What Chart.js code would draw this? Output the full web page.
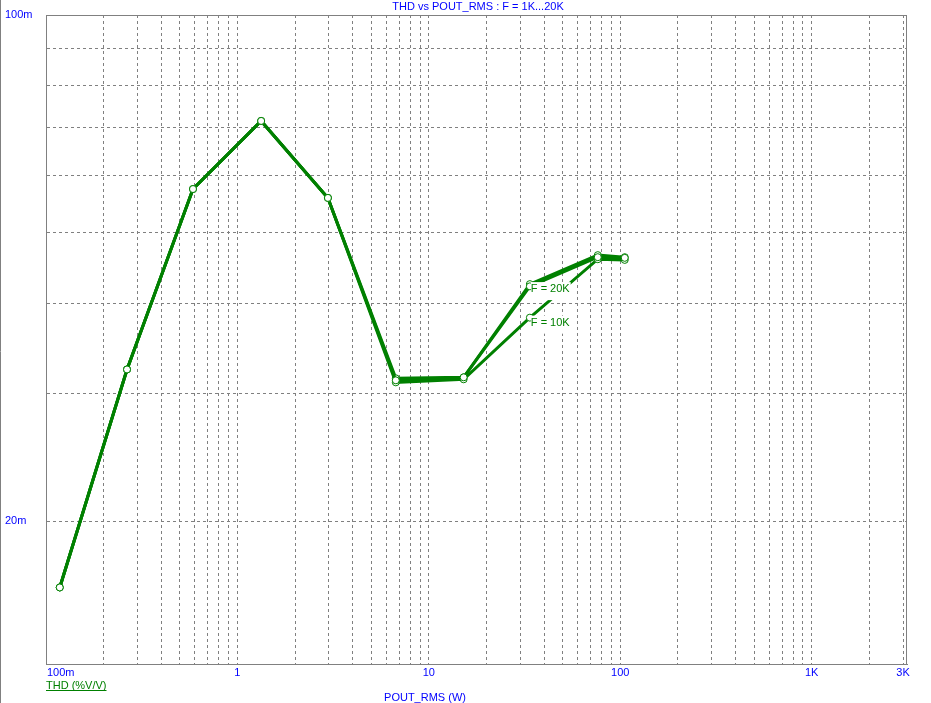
<!DOCTYPE html>
<html>
<head>
<meta charset="utf-8">
<script src="https://cdn.jsdelivr.net/npm/chart.js@4"></script>
<style>
  html, body { margin: 0; padding: 0; background: #fff; }
  canvas { display: block; }
</style>
</head>
<body>
<canvas id="thdChart" width="931" height="703"></canvas>
<script>
// output power (W)
const pout = [0.118, 0.265, 0.586, 1.33, 2.97, 6.72, 15.2, 33.7, 76.3, 105.5];
// THD (V/V) per test frequency
const thd1k  = [0.0162, 0.0324, 0.0575, 0.0714, 0.0559, 0.0313, 0.0316, 0.0422, 0.0463, 0.0462];
const thd10k = [0.0162, 0.0324, 0.0575, 0.0714, 0.0559, 0.0311, 0.0314, 0.0382, 0.0460, 0.0459];
const thd20k = [0.0162, 0.0324, 0.0575, 0.0714, 0.0559, 0.0315, 0.0316, 0.0425, 0.0466, 0.0463];

const xLabelValues = [0.1, 1, 10, 100, 1000, 3000];
const xLabelText = ['100m', '1', '10', '100', '1K', '3K'];
const yLabelValues = [0.1, 0.02];
const yLabelText = ['100m', '20m'];
const yGridValues = [0.02, 0.03, 0.04, 0.05, 0.06, 0.07, 0.08, 0.09, 0.1];

const BLUE = '#0000ff';
const GREEN = '#008000';
const GRID = '#808080';
const FONT = '11px "Liberation Sans", Arial, sans-serif';

function xGridValues() {
  const out = [];
  [0.1, 1, 10, 100, 1000].forEach(d => {
    for (let k = 1; k <= 9; k++) {
      const v = k * d;
      if (v <= 3000.001) out.push(v);
    }
  });
  return out;
}

function series(label, values) {
  return {
    label,
    data: pout.map((x, i) => ({ x, y: values[i] })),
    borderColor: GREEN,
    borderWidth: 3,
    pointRadius: 3.5,
    pointBorderWidth: 1,
    pointBorderColor: GREEN,
    pointBackgroundColor: '#fff',
    tension: 0
  };
}

const decorations = {
  id: 'decorations',
  afterDraw(chart) {
    const { ctx, chartArea: a, scales: { x, y } } = chart;
    ctx.save();
    // plot frame
    ctx.strokeStyle = GRID;
    ctx.lineWidth = 1;
    ctx.strokeRect(a.left + 0.5, a.top + 0.5, a.right - a.left - 1, a.bottom - a.top);
    // window edge
    ctx.beginPath();
    ctx.moveTo(0.5, 0);
    ctx.lineTo(0.5, chart.height);
    ctx.stroke();

    ctx.font = FONT;
    ctx.fillStyle = BLUE;
    ctx.textBaseline = 'middle';

    // x tick labels
    xLabelValues.forEach((v, i) => {
      ctx.textAlign = i === 0 ? 'left' : 'center';
      const px = x.getPixelForValue(v) + (i === 0 ? 1 : 0);
      ctx.fillText(xLabelText[i], px, 673);
    });
    // y tick labels
    ctx.textAlign = 'left';
    yLabelValues.forEach((v, i) => {
      ctx.fillText(yLabelText[i], 5, y.getPixelForValue(v));
    });

    // title and axis title
    ctx.textAlign = 'center';
    ctx.fillText('THD vs POUT_RMS : F = 1K...20K', 478, 7);
    ctx.fillText('POUT_RMS (W)', 425, 698);

    // trace name
    ctx.fillStyle = GREEN;
    ctx.textAlign = 'left';
    ctx.fillText('THD (%V/V)', 46, 686);
    const w = ctx.measureText('THD (%V/V)').width;
    ctx.fillRect(46, 690, w, 1);

    // curve labels
    [[thd20k, 'F = 20K'], [thd10k, 'F = 10K']].forEach(([vals, txt]) => {
      const px = x.getPixelForValue(pout[7]) + 1;
      const py = y.getPixelForValue(vals[7]) + 5;
      const tw = ctx.measureText(txt).width;
      ctx.fillStyle = '#fff';
      ctx.fillRect(px, py - 7, tw + 1, 18);
      ctx.fillStyle = GREEN;
      ctx.fillText(txt, px, py);
    });
    ctx.restore();
  }
};

new Chart(document.getElementById('thdChart'), {
  type: 'line',
  data: {
    datasets: [series('F = 1K', thd1k), series('F = 10K', thd10k), series('F = 20K', thd20k)]
  },
  options: {
    responsive: false,
    animation: false,
    layout: { padding: { left: 46, top: 15, right: 24, bottom: 39 } },
    plugins: { legend: { display: false }, tooltip: { enabled: false } },
    scales: {
      x: {
        type: 'logarithmic',
        min: 0.1,
        max: 3146,
        afterBuildTicks: s => { s.ticks = xGridValues().map(value => ({ value })); },
        afterFit: s => { s.height = 0; },
        ticks: { display: false },
        grid: { color: GRID, lineWidth: 1, drawTicks: false },
        border: { display: true, color: GRID, width: 1, dash: [3, 3] }
      },
      y: {
        type: 'logarithmic',
        min: 0.0127,
        max: 0.1,
        afterBuildTicks: s => { s.ticks = yGridValues.map(value => ({ value })); },
        afterFit: s => { s.width = 0; },
        ticks: { display: false },
        grid: { color: GRID, lineWidth: 1, drawTicks: false },
        border: { display: true, color: GRID, width: 1, dash: [3, 3] }
      }
    }
  },
  plugins: [decorations]
});
</script>
</body>
</html>
